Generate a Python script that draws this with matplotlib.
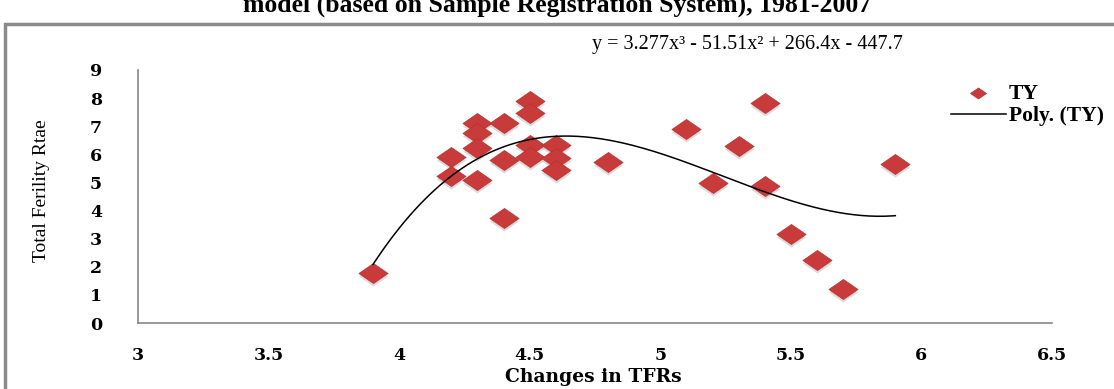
# Scatter of Total Fertility Rate vs changes in TFRs with cubic trendline

import numpy as np
import matplotlib.pyplot as plt
import matplotlib.transforms as mtransforms
from matplotlib.path import Path
from matplotlib.patches import Rectangle

# Data (SRS, 1981-2007)
tfr_change = [3.9, 4.2, 4.2, 4.3, 4.3, 4.3, 4.3, 4.4, 4.4, 4.4, 4.5, 4.5, 4.5, 4.5,
              4.6, 4.6, 4.6, 4.8, 5.1, 5.2, 5.3, 5.4, 5.4, 5.5, 5.6, 5.7, 5.9]
ty = [1.77, 5.92, 5.23, 7.10, 6.77, 6.21, 5.09, 7.10, 5.80, 3.73, 7.91, 7.46, 6.33, 5.90,
      6.33, 5.86, 5.44, 5.74, 6.89, 4.97, 6.31, 7.82, 4.88, 3.17, 2.24, 1.21, 5.66]
x_ticks = [3, 3.5, 4, 4.5, 5, 5.5, 6, 6.5]
x_tick_labels = ["3", "3.5", "4", "4.5", "5", "5.5", "6", "6.5"]
y_ticks = list(range(0, 10))
equation = "y = 3.277x\u00b3 - 51.51x\u00b2 + 266.4x - 447.7"
title = "model (based on Sample Registration System), 1981-2007"

x = np.array(tfr_change)
y = np.array(ty)

# Cubic trendline like Excel's "Poly. (TY)"
coef = np.polyfit(x, y, 3)
xs = np.linspace(x.min(), x.max(), 200)
ys = np.polyval(coef, xs)

# flat diamond marker like the Excel 3D diamond
diamond = Path([(0, 1), (1.45, 0), (0, -1), (-1.45, 0), (0, 1)],
               [Path.MOVETO, Path.LINETO, Path.LINETO, Path.LINETO, Path.CLOSEPOLY])

fig = plt.figure(figsize=(11.14, 3.89), dpi=100)
ax = fig.add_axes([138 / 1114, 66 / 389, 914 / 1114, 253 / 389])

shadow = mtransforms.offset_copy(ax.transData, fig=fig, x=0, y=-3, units='dots')
ax.scatter(x, y, marker=diamond, s=21 ** 2, color='#9a9a9a', alpha=0.35,
           linewidths=0, transform=shadow, zorder=2)
ax.scatter(x, y, marker=diamond, s=21 ** 2, color='#c93a3a', edgecolors='#b83232',
           linewidths=0.5, zorder=3, label='TY')
ax.plot(xs, ys, color='black', lw=1.1, zorder=4, label='Poly. (TY)')

ax.set_xlim(3, 6.5)
ax.set_ylim(0, 9)
ax.set_xticks(x_ticks)
ax.set_xticklabels(x_tick_labels)
ax.set_yticks(y_ticks)
for s in ['top', 'right']:
    ax.spines[s].set_visible(False)
for s in ['left', 'bottom']:
    ax.spines[s].set_color('#868686')
    ax.spines[s].set_linewidth(1.2)
ax.tick_params(length=0, pad=0)
ax.tick_params(axis='y', pad=26)
ax.tick_params(axis='x', pad=17)
for lab in ax.get_xticklabels() + ax.get_yticklabels():
    lab.set_family('DejaVu Serif')
    lab.set_fontweight('bold')
    lab.set_fontsize(12.5)

fig.text(593 / 1114, 1 - 377 / 389, "Changes in TFRs", family='DejaVu Serif',
         fontweight='bold', fontsize=13.5, ha='center', va='center')
fig.text(42 / 1114, 1 - 191 / 389, "Total Ferility Rtae", rotation=90,
         family='Liberation Serif', fontsize=14, ha='center', va='center')

fig.text(592 / 1114, 1 - 45 / 389, equation, family='Liberation Serif',
         fontsize=14.5, ha='left', va='center')

leg = ax.legend(loc='upper left', bbox_to_anchor=(940 / 1114, 1 - 73 / 389),
                bbox_transform=fig.transFigure, frameon=False, handlelength=2.55,
                handletextpad=0.15, labelspacing=0.1, borderpad=0, markerscale=0.55,
                prop={'family': 'Liberation Serif', 'weight': 'bold', 'size': 15.5})

# outer chart border (partially outside the picture, as in the crop)
fig.patches.append(Rectangle((5 / 1114, -0.2), 1.2, 1.2 - 24 / 389,
                             transform=fig.transFigure, fill=False,
                             edgecolor='#8a8a8a', lw=2.5))

# title is cut by the top edge in the original
fig.text(0.5, 1 - 12 / 389, title, family='Liberation Serif', fontweight='bold',
         fontsize=18.5, ha='center', va='baseline')

fig.savefig("out.png", dpi=100)
